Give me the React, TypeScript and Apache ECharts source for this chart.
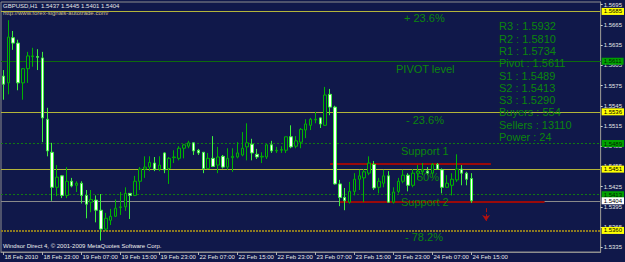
import React, { useEffect, useRef } from 'react';
import * as echarts from 'echarts';

// time-axis labels, one every 8 hourly bars, starting with the first bar
const timeTickLabels = [
  '18 Feb 2010', '18 Feb 23:00', '19 Feb 07:00', '19 Feb 15:00', '19 Feb 23:00',
  '22 Feb 07:00', '22 Feb 15:00', '22 Feb 23:00', '23 Feb 07:00', '23 Feb 15:00',
  '23 Feb 23:00', '24 Feb 07:00', '24 Feb 15:00',
];
const barsPerTick = 8;
const emptyRightBars = 26; // chart shift space after the last bar

const priceTicks = [
  1.5695, 1.5665, 1.5635, 1.5605, 1.5575, 1.5545, 1.5515, 1.5485, 1.5455,
  1.5425, 1.5395, 1.5365, 1.5335,
];
const priceMin = 1.5328;
const priceMax = 1.5699;

const opens = [
  1.5589, 1.5579, 1.5646, 1.5638, 1.5579, 1.5600, 1.5618, 1.5618, 1.5616, 1.5525,
  1.5476, 1.5424, 1.5441, 1.5412, 1.5433, 1.5427, 1.5430, 1.5412, 1.5402, 1.5405,
  1.5390, 1.5362, 1.5375, 1.5381, 1.5394, 1.5395, 1.5415, 1.5412, 1.5433, 1.5451,
  1.5454, 1.5460, 1.5451, 1.5475, 1.5452, 1.5468, 1.5467, 1.5482, 1.5485, 1.5490,
  1.5479, 1.5476, 1.5452, 1.5467, 1.5457, 1.5470, 1.5454, 1.5468, 1.5469, 1.5472,
  1.5484, 1.5488, 1.5473, 1.5469, 1.5469, 1.5487, 1.5478, 1.5479, 1.5479, 1.5499,
  1.5485, 1.5491, 1.5509, 1.5516, 1.5524, 1.5527, 1.5516, 1.5562, 1.5543, 1.5429,
  1.5409, 1.5402, 1.5418, 1.5436, 1.5438, 1.5445, 1.5458, 1.5424, 1.5430, 1.5441,
  1.5402, 1.5418, 1.5433, 1.5442, 1.5427, 1.5445, 1.5447, 1.5448, 1.5445, 1.5458,
  1.5450, 1.5424, 1.5427, 1.5435, 1.5451, 1.5445, 1.5437,
];
const closes = [
  1.5577, 1.5647, 1.5638, 1.5579, 1.5600, 1.5619, 1.5619, 1.5617, 1.5527, 1.5478,
  1.5424, 1.5439, 1.5412, 1.5433, 1.5426, 1.5430, 1.5412, 1.5399, 1.5406, 1.5390,
  1.5362, 1.5378, 1.5381, 1.5393, 1.5395, 1.5415, 1.5412, 1.5433, 1.5451, 1.5454,
  1.5461, 1.5451, 1.5457, 1.5450, 1.5467, 1.5469, 1.5482, 1.5487, 1.5490, 1.5478,
  1.5475, 1.5452, 1.5467, 1.5455, 1.5469, 1.5454, 1.5467, 1.5470, 1.5475, 1.5482,
  1.5490, 1.5475, 1.5469, 1.5470, 1.5487, 1.5478, 1.5479, 1.5480, 1.5499, 1.5484,
  1.5493, 1.5510, 1.5518, 1.5525, 1.5525, 1.5518, 1.5561, 1.5543, 1.5429, 1.5409,
  1.5404, 1.5418, 1.5436, 1.5441, 1.5447, 1.5460, 1.5423, 1.5433, 1.5441, 1.5402,
  1.5417, 1.5433, 1.5442, 1.5427, 1.5445, 1.5448, 1.5450, 1.5445, 1.5458, 1.5451,
  1.5424, 1.5430, 1.5436, 1.5451, 1.5445, 1.5436, 1.5404,
];
const highs = [
  1.5598, 1.5672, 1.5656, 1.5643, 1.5601, 1.5625, 1.5631, 1.5629, 1.5625, 1.5542,
  1.5490, 1.5457, 1.5442, 1.5454, 1.5438, 1.5433, 1.5433, 1.5420, 1.5420, 1.5412,
  1.5414, 1.5386, 1.5392, 1.5406, 1.5417, 1.5424, 1.5415, 1.5441, 1.5454, 1.5470,
  1.5470, 1.5469, 1.5470, 1.5476, 1.5469, 1.5479, 1.5485, 1.5488, 1.5493, 1.5491,
  1.5481, 1.5476, 1.5475, 1.5500, 1.5484, 1.5472, 1.5482, 1.5482, 1.5491, 1.5506,
  1.5519, 1.5496, 1.5481, 1.5476, 1.5488, 1.5493, 1.5484, 1.5485, 1.5499, 1.5516,
  1.5500, 1.5512, 1.5525, 1.5527, 1.5536, 1.5528, 1.5573, 1.5570, 1.5545, 1.5435,
  1.5423, 1.5432, 1.5445, 1.5450, 1.5451, 1.5470, 1.5463, 1.5438, 1.5450, 1.5448,
  1.5424, 1.5438, 1.5450, 1.5445, 1.5451, 1.5457, 1.5460, 1.5454, 1.5460, 1.5460,
  1.5452, 1.5442, 1.5445, 1.5473, 1.5457, 1.5447, 1.5445,
];
const lows = [
  1.5554, 1.5562, 1.5628, 1.5568, 1.5554, 1.5579, 1.5603, 1.5598, 1.5491, 1.5470,
  1.5404, 1.5411, 1.5408, 1.5408, 1.5424, 1.5417, 1.5400, 1.5378, 1.5387, 1.5372,
  1.5345, 1.5359, 1.5368, 1.5380, 1.5383, 1.5389, 1.5377, 1.5411, 1.5420, 1.5438,
  1.5448, 1.5448, 1.5448, 1.5445, 1.5429, 1.5460, 1.5464, 1.5467, 1.5482, 1.5472,
  1.5472, 1.5445, 1.5451, 1.5454, 1.5445, 1.5452, 1.5450, 1.5447, 1.5467, 1.5470,
  1.5464, 1.5464, 1.5466, 1.5460, 1.5466, 1.5475, 1.5475, 1.5475, 1.5475, 1.5482,
  1.5482, 1.5482, 1.5497, 1.5509, 1.5519, 1.5512, 1.5515, 1.5531, 1.5428, 1.5396,
  1.5390, 1.5400, 1.5412, 1.5420, 1.5402, 1.5442, 1.5420, 1.5415, 1.5424, 1.5401,
  1.5400, 1.5415, 1.5430, 1.5418, 1.5424, 1.5435, 1.5442, 1.5442, 1.5439, 1.5450,
  1.5415, 1.5423, 1.5412, 1.5432, 1.5427, 1.5427, 1.5401,
];

// horizontal levels
const fiboLevels = [1.5685, 1.5536, 1.5451];
const pivotLevel = 1.5611;
const supportLevels = [1.5489, 1.5413];
const bidPrice = 1.5404;
const lowFiboLevel = 1.5360;

// red channel lines (bar index from, bar index to, price)
const redLines = [
  [67, 100, 1.5459],
  [69, 111, 1.5402],
];
// sell arrow (bar index, price top, price bottom)
const sellArrow = [99, 1.5393, 1.5374];

const headerText = 'GBPUSD,H1  1.5437 1.5445 1.5401 1.5404';
const urlText = 'http://www.forex-signals-autotrade.com/';
const footerText = 'Windsor Direct 4, \u00a9 2001-2009 MetaQuotes Software Corp.';
const pivotInfo = [
  'R3 : 1.5932', 'R2 : 1.5810', 'R1 : 1.5734', 'Pivot : 1.5611', 'S1 : 1.5489',
  'S2 : 1.5413', 'S3 : 1.5290', 'Buyers : 554', 'Sellers : 13110', 'Power : 24',
];
const levelTexts = ['+ 23.6%', 'PIVOT level', '- 23.6%', 'Support 1', '50%', 'Support 2', '- 78.2%'];

const BG = '#10184a';
const FONT = '"Liberation Sans", Arial, sans-serif';

export default function App() {
  const ref = useRef<HTMLDivElement>(null);

  useEffect(() => {
    if (!ref.current) return;
    const chart = echarts.init(ref.current, undefined, { renderer: 'svg' });

    const totalBars = opens.length + emptyRightBars;
    const categories = Array.from({ length: totalBars }, (_, i) => String(i));
    const candles = opens.map((o, i) => [o, closes[i], lows[i], highs[i]]);

    const boxLabel = (bg: string, fg: string) => ({
      show: true,
      position: 'end',
      distance: 1,
      formatter: (p: any) => Number(p.value).toFixed(4),
      backgroundColor: bg,
      color: fg,
      fontSize: 6,
      fontFamily: FONT,
      padding: [1, 2, 0, 2],
      lineHeight: 6,
    });

    const markData: any[] = [];
    fiboLevels.forEach((v) =>
      markData.push({ yAxis: v, lineStyle: { color: '#b4b43a', width: 1, type: 'solid' }, label: boxLabel('#ffff00', '#000') })
    );
    markData.push({ yAxis: pivotLevel, lineStyle: { color: '#0d6a0d', width: 1, type: 'solid' }, label: boxLabel('#00a000', '#002000') });
    supportLevels.forEach((v) =>
      markData.push({ yAxis: v, lineStyle: { color: '#127a12', width: 1, type: [2, 2] }, label: boxLabel('#00a000', '#002000') })
    );
    markData.push({ yAxis: bidPrice, lineStyle: { color: '#8a8a8a', width: 1, type: 'solid' }, label: boxLabel('#ffffff', '#000') });
    markData.push({ yAxis: lowFiboLevel, lineStyle: { color: '#8c7a22', width: 2, type: [2, 1] }, label: boxLabel('#ffff00', '#000') });
    redLines.forEach(([a, b, p]) =>
      markData.push([
        { coord: [categories[a], p], lineStyle: { color: '#9a0a0a', width: 2, type: 'solid' }, label: { show: false } },
        { coord: [categories[b], p] },
      ])
    );
    markData.push([
      { coord: [categories[sellArrow[0]], sellArrow[1]], symbol: 'none', lineStyle: { color: '#b01010', width: 1 }, label: { show: false } },
      { coord: [categories[sellArrow[0]], sellArrow[2]], symbol: 'arrow', symbolSize: 6 },
    ]);

    const textEl = (text: string, x: number, y: number, fill: string, size: number) => ({
      type: 'text',
      x,
      y,
      z: 100,
      silent: true,
      style: { text, fill, font: `${size}px ${FONT}`, verticalAlign: 'middle', align: 'left' },
    });

    const green = '#0c860c';
    const levelTextPos = [
      [404, 17.5], [396, 68.5], [406, 120], [401, 150.5], [417, 177], [401, 201.5], [405, 237],
    ];
    const graphics: any[] = [
      textEl(headerText, 3, 5.5, '#e6e6e6', 6),
      textEl(urlText, 3, 13, '#cdbf94', 6),
      textEl(footerText, 3, 245.5, '#ececec', 6),
      ...levelTexts.map((t, i) => textEl(t, levelTextPos[i][0], levelTextPos[i][1], green, 11)),
      ...pivotInfo.map((t, i) => textEl(t, 499, 26.3 + i * 12.3, green, 11)),
    ];

    chart.setOption({
      animation: false,
      backgroundColor: BG,
      textStyle: { fontFamily: FONT },
      grid: {
        left: 1,
        right: 23,
        top: 2,
        bottom: 10,
        show: true,
        borderColor: '#8e8e8e',
        borderWidth: 1,
        backgroundColor: 'transparent',
      },
      xAxis: {
        type: 'category',
        data: categories,
        boundaryGap: true,
        axisLine: { show: true, lineStyle: { color: '#8e8e8e', width: 1 } },
        axisTick: {
          show: true,
          alignWithLabel: true,
          length: 3,
          interval: (i: number) => i % barsPerTick === 0 && i / barsPerTick < timeTickLabels.length,
          lineStyle: { color: '#b0b0b0' },
        },
        axisLabel: {
          show: true,
          interval: (i: number) => i % barsPerTick === 0 && i / barsPerTick < timeTickLabels.length,
          formatter: (_v: string, i: number) =>
            i % barsPerTick === 0 ? timeTickLabels[i / barsPerTick] ?? '' : '',
          color: '#e6e6e6',
          fontSize: 6,
          fontFamily: FONT,
          align: 'left',
          margin: 2,
          padding: [0, 0, 0, 1],
        },
        splitLine: { show: false },
      },
      yAxis: {
        type: 'value',
        position: 'right',
        min: priceMin,
        max: priceMax,
        scale: true,
        splitLine: { show: false },
        axisLine: { show: true, lineStyle: { color: '#8e8e8e' } },
        axisTick: { show: true, length: 2, customValues: priceTicks, lineStyle: { color: '#d0d0d0' } },
        axisLabel: {
          show: true,
          customValues: priceTicks,
          formatter: (v: number) => v.toFixed(4),
          color: '#e6e6e6',
          fontSize: 6,
          fontFamily: FONT,
          margin: 3,
        },
      },
      series: [
        {
          type: 'candlestick',
          data: candles,
          barWidth: 3,
          itemStyle: {
            color: BG,
            color0: '#ffffff',
            borderColor: '#00b400',
            borderColor0: '#3cf03c',
            borderWidth: 1,
          },
          markLine: {
            silent: true,
            precision: 4,
            symbol: ['none', 'none'],
            animation: false,
            z: 1,
            data: markData,
          },
        },
      ],
      graphic: graphics,
    });

    return () => chart.dispose();
  }, []);

  return <div ref={ref} style={{ position: 'fixed', left: 0, top: 0, width: 625, height: 262 }} />;
}
